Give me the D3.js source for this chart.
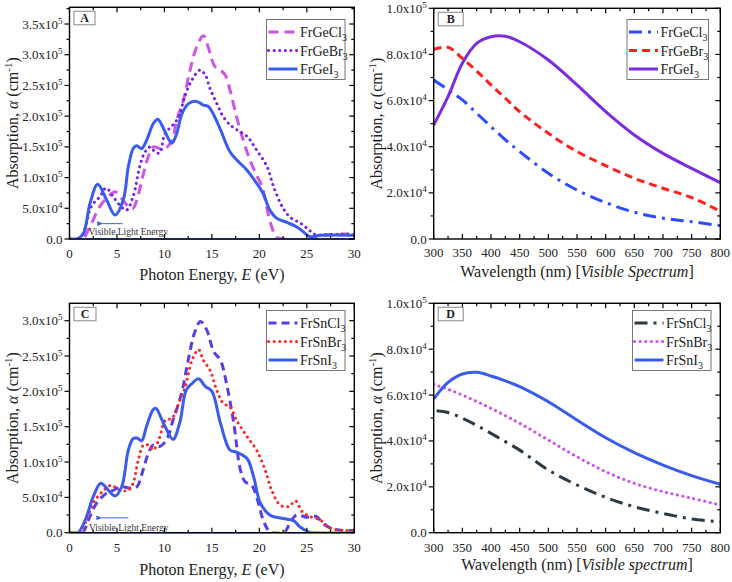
<!DOCTYPE html>
<html><head><meta charset="utf-8">
<script src="https://cdn.jsdelivr.net/npm/d3@7"></script>
<style>body{margin:0;background:#fff}</style></head>
<body><svg id="c" width="732" height="582" xmlns="http://www.w3.org/2000/svg"></svg>
<script>
// ---------- DATA ----------
// Panels A & C: photon energy (eV) vs absorption (units of 1e5 cm^-1)
const FrGeCl3_A = [[0,0],[1.2,0],[1.46,0.01],[2.16,0.2],[3.2,0.53],[4.27,0.72],[4.8,0.77],[5.5,0.66],[6.2,0.53],[6.7,0.50],[7.1,0.64],[7.8,1.07],[8.3,1.34],[8.83,1.50],[9.5,1.47],[10.06,1.47],[10.8,1.61],[11.3,1.94],[12.0,2.26],[12.7,2.75],[13.4,3.13],[14.1,3.31],[14.6,3.13],[15.3,2.81],[15.9,2.75],[16.4,2.67],[16.9,2.43],[17.6,1.99],[18.3,1.61],[19.0,1.29],[19.7,1.04],[20.3,0.85],[20.8,0.50],[21.3,0.20],[21.8,0.03],[22.5,0],[25.5,0],[26.4,0.05],[27.2,0.07],[28,0.06],[29,0.08],[30,0.09]];
const FrGeBr3_A = [[0,0],[1.1,0],[1.6,0.15],[2.3,0.53],[3.2,0.69],[3.85,0.83],[4.6,0.69],[5.3,0.55],[6.0,0.47],[6.7,0.69],[7.4,1.18],[7.9,1.40],[8.5,1.50],[9.0,1.42],[9.5,1.40],[10.06,1.72],[10.8,1.84],[11.5,1.99],[12.2,2.35],[12.9,2.59],[13.75,2.75],[14.3,2.67],[14.8,2.45],[15.5,2.21],[16.2,1.99],[16.9,1.86],[17.6,1.78],[18.7,1.67],[19.7,1.45],[20.8,1.18],[21.5,0.85],[22.4,0.53],[23.2,0.36],[24.3,0.26],[25.2,0.15],[25.9,0.07],[27,0.07],[28.5,0.08],[30,0.07]];
const FrGeI3_A = [[0,0],[0.8,0],[1.46,0.09],[2.16,0.58],[2.97,0.89],[3.9,0.64],[4.8,0.39],[5.67,0.64],[6.2,1.18],[6.73,1.48],[7.08,1.52],[7.6,1.47],[8.13,1.61],[8.83,1.88],[9.3,1.95],[9.9,1.80],[10.77,1.56],[11.3,1.72],[11.8,2.02],[12.5,2.20],[13.4,2.24],[14.1,2.18],[14.6,2.16],[15.2,2.02],[15.9,1.78],[16.9,1.42],[17.6,1.29],[18.7,1.12],[19.7,0.91],[20.4,0.74],[21.1,0.47],[21.8,0.34],[22.9,0.27],[23.9,0.20],[24.6,0.12],[25.3,0.04],[26.4,0.06],[27.8,0.065],[30,0.06]];

const FrSnCl3_C = [[0,0],[1.3,0],[1.46,0.01],[2.16,0.23],[2.86,0.42],[3.9,0.56],[4.6,0.60],[5.5,0.65],[6.4,0.63],[7.1,0.65],[7.6,0.82],[8.3,1.12],[8.8,1.24],[9.5,1.22],[10.2,1.31],[10.9,1.59],[11.8,1.97],[12.5,2.44],[13.2,2.84],[13.8,2.99],[14.45,2.87],[15.2,2.56],[15.9,2.44],[16.6,2.07],[17.3,1.55],[18.0,0.89],[18.5,0.72],[19.2,0.67],[19.9,0.42],[20.4,0.18],[21.1,0.01],[21.6,0],[22.6,0],[23.2,0.13],[23.9,0.25],[25.0,0.22],[26.0,0.23],[26.7,0.13],[27.8,0.05],[30,0.03]];
const FrSnBr3_C = [[0,0],[1.1,0],[1.8,0.18],[2.5,0.42],[3.6,0.60],[4.4,0.67],[5.3,0.60],[6.2,0.60],[6.7,0.70],[7.25,1.03],[7.8,1.24],[8.3,1.24],[8.8,1.17],[9.4,1.31],[10.1,1.59],[10.8,1.62],[11.5,1.83],[12.2,2.07],[12.9,2.44],[13.6,2.59],[14.1,2.44],[14.8,2.30],[15.5,2.02],[16.2,1.83],[16.9,1.78],[17.6,1.59],[18.7,1.36],[19.7,1.17],[20.6,0.89],[21.3,0.60],[22.2,0.39],[23.1,0.37],[23.8,0.45],[24.5,0.30],[25.3,0.23],[26.4,0.18],[27.3,0.08],[28.1,0.04],[30,0.03]];
const FrSnI3_C = [[0,0],[0.8,0],[1.1,0.03],[1.8,0.23],[2.5,0.51],[3.3,0.70],[4.1,0.60],[4.8,0.52],[5.5,0.65],[6.2,1.17],[6.7,1.33],[7.1,1.34],[7.6,1.30],[8.1,1.50],[8.8,1.74],[9.1,1.76],[9.9,1.55],[10.9,1.32],[11.6,1.55],[12.3,2.02],[12.9,2.11],[13.6,2.18],[14.3,2.07],[15.0,2.00],[15.9,1.55],[16.9,1.17],[17.6,1.14],[18.7,1.05],[19.4,0.79],[20.1,0.42],[21.1,0.25],[22.5,0.20],[23.6,0.17],[24.3,0.08],[25.2,0.01],[26,0],[30,0]];

// Panels B & D: wavelength (nm) vs absorption (units of 1e4 cm^-1)
const wavelength = [300,325,350,375,400,425,450,500,550,600,650,700,750,800];
const FrGeCl3_B = [6.89,6.47,6.03,5.45,4.87,4.30,3.79,2.85,2.12,1.58,1.16,0.90,0.75,0.58];
const FrGeBr3_B = [8.22,8.31,7.83,7.28,6.68,6.10,5.52,4.58,3.79,3.18,2.63,2.20,1.79,1.21];
const FrGeI3_B  = [4.94,6.17,7.62,8.48,8.77,8.79,8.55,7.76,6.68,5.52,4.51,3.71,3.06,2.44];
const wavelengthSnCl3 = [305,325,350,375,400,425,450,500,550,600,650,700,750,800];
const FrSnCl3_D = [5.32,5.24,4.99,4.68,4.33,3.97,3.60,2.73,2.08,1.54,1.13,0.84,0.60,0.48];
const FrSnBr3_D = [6.47,6.25,6.00,5.72,5.42,5.10,4.77,4.04,3.31,2.66,2.15,1.79,1.50,1.21];
const FrSnI3_D  = [5.83,6.55,6.92,6.99,6.83,6.62,6.37,5.71,4.91,4.14,3.49,2.95,2.49,2.11];

// Ticks
const energyTicks = [0,5,10,15,20,25,30];
const wavelengthTicks = [300,350,400,450,500,550,600,650,700,750,800];
const yTicksA = [0,0.5,1.0,1.5,2.0,2.5,3.0,3.5];
const yTickLabelsA = ["0.0","5.0x10^4","1.0x10^5","1.5x10^5","2.0x10^5","2.5x10^5","3.0x10^5","3.5x10^5"];
const yTicksC = [0,0.5,1.0,1.5,2.0,2.5,3.0];
const yTickLabelsC = ["0.0","5.0x10^4","1.0x10^5","1.5x10^5","2.0x10^5","2.5x10^5","3.0x10^5"];
const yTicksBD = [0,2,4,6,8,10];
const yTickLabelsBD = ["0.0","2.0x10^4","4.0x10^4","6.0x10^4","8.0x10^4","1.0x10^5"];

// ---------- DRAW ----------
const svg = d3.select("#c");
const FONT = "'Liberation Serif','Times New Roman',serif";
const zip = (xs, ys) => xs.map((x,i)=>[x, ys[i]]);

const STY = {
  solid:  {dash:null, cap:"butt"},
  dash:   {dash:"10 6", cap:"butt"},
  dashS:  {dash:"8 5", cap:"butt"},
  dot:    {dash:"0.1 5.5", cap:"round"},
  dashdot:{dash:"13 6 3 6", cap:"butt"}
};

const panels = [
  {label:"A", box:{l:69.5,r:354.3,t:7.3,b:239}, xd:[0,30], yd:[0,3.772], xt:energyTicks, xMinorStep:2.5,
   yt:yTicksA, ytl:yTickLabelsA, yMinorStep:0.25, xTitle:["Photon Energy, ",["E","italic"]," (eV)"], xTitleY:280, xTickY:258,
   labelW:21, legend:{x:266.5,y:19.5,w:78.5,h:60},
   series:[
     {name:"FrGeCl",data:FrGeCl3_A,color:"#cc55e8",sty:"dash"},
     {name:"FrGeBr",data:FrGeBr3_A,color:"#7a1fe6",sty:"dot"},
     {name:"FrGeI",data:FrGeI3_A,color:"#3a5bef",sty:"solid"}],
   zeroLine:true, note:{tx:2.0,ty:0.06,ax1:5.6,ax2:3.5,ay:0.25}},
  {label:"B", box:{l:433.7,r:720.3,t:8.3,b:239}, xd:[300,800], yd:[0,10], xt:wavelengthTicks, xMinorStep:25,
   yt:yTicksBD, ytl:yTickLabelsBD, yMinorStep:1, xTitle:["Wavelength (nm) [",["Visible Spectrum","italic"],"]"], xTitleY:277, xTickY:257,
   labelW:25, legend:{x:627,y:19.5,w:81.5,h:60},
   series:[
     {name:"FrGeCl",data:zip(wavelength,FrGeCl3_B),color:"#2b4cff",sty:"dashdot"},
     {name:"FrGeBr",data:zip(wavelength,FrGeBr3_B),color:"#ff1f1f",sty:"dashS"},
     {name:"FrGeI",data:zip(wavelength,FrGeI3_B),color:"#7b2be0",sty:"solid"}]},
  {label:"C", box:{l:69.5,r:354.3,t:303.3,b:532.7}, xd:[0,30], yd:[0,3.246], xt:energyTicks, xMinorStep:2.5,
   yt:yTicksC, ytl:yTickLabelsC, yMinorStep:0.25, xTitle:["Photon Energy, ",["E","italic"]," (eV)"], xTitleY:575, xTickY:552,
   labelW:22, legend:{x:266.5,y:310.5,w:78.5,h:60},
   series:[
     {name:"FrSnCl",data:FrSnCl3_C,color:"#5b3de6",sty:"dashS"},
     {name:"FrSnBr",data:FrSnBr3_C,color:"#ff2626",sty:"dot"},
     {name:"FrSnI",data:FrSnI3_C,color:"#3a5bef",sty:"solid"}],
   zeroLine:true, note:{tx:2.05,ty:0.03,ax1:6.2,ax2:3.4,ay:0.21}},
  {label:"D", box:{l:433.7,r:720.3,t:303.3,b:532.7}, xd:[300,800], yd:[0,10], xt:wavelengthTicks, xMinorStep:25,
   yt:yTicksBD, ytl:yTickLabelsBD, yMinorStep:1, xTitle:["Wavelength (nm) [",["Visible spectrum","italic"],"]"], xTitleY:570, xTickY:552,
   labelW:25, legend:{x:632.5,y:310.5,w:78.5,h:60},
   series:[
     {name:"FrSnCl",data:zip(wavelengthSnCl3,FrSnCl3_D),color:"#2d3a44",sty:"dashdot"},
     {name:"FrSnBr",data:zip(wavelength,FrSnBr3_D),color:"#cc4cf0",sty:"dot"},
     {name:"FrSnI",data:zip(wavelength,FrSnI3_D),color:"#3a5bef",sty:"solid"}]}
];

function supText(sel, label){
  const parts = label.split("^");
  sel.text(parts[0]);
  if(parts[1]) sel.append("tspan").attr("dy",-5).attr("font-size",9).text(parts[1]);
}

function range(a,b,step){const r=[];for(let v=a;v<=b+1e-9;v+=step)r.push(+v.toFixed(6));return r;}

svg.append("defs").append("marker").attr("id","arr").attr("viewBox","0 0 10 10")
  .attr("refX",1).attr("refY",5).attr("markerWidth",6).attr("markerHeight",6).attr("orient","auto-start-reverse")
  .append("path").attr("d","M10,1 L0,5 L10,9 Z").attr("fill","#3f5fd8");

panels.forEach(p=>{
  const b = p.box;
  const x = d3.scaleLinear().domain(p.xd).range([b.l,b.r]);
  const y = d3.scaleLinear().domain(p.yd).range([b.b,b.t]);
  const g = svg.append("g");

  const clipId = "clip"+p.label;
  svg.select("defs").append("clipPath").attr("id",clipId).append("rect")
    .attr("x",b.l).attr("y",b.t-2).attr("width",b.r-b.l).attr("height",b.b-b.t+1);

  // zero line
  if(p.zeroLine){
    g.append("line").attr("x1",x(p.xd[0])).attr("x2",x(p.xd[1])).attr("y1",y(0)).attr("y2",y(0))
      .attr("stroke","#3a5bef").attr("stroke-width",1.5);
  }

  // series
  const line = d3.line().x(d=>x(d[0])).y(d=>y(Math.max(0,d[1]))).curve(d3.curveCatmullRom.alpha(0.5));
  const cg = g.append("g").attr("clip-path",`url(#${clipId})`);
  p.series.forEach(s=>{
    cg.append("path").attr("d",line(s.data)).attr("fill","none")
      .attr("stroke",s.color).attr("stroke-width",3)
      .attr("stroke-dasharray",STY[s.sty].dash).attr("stroke-linecap",STY[s.sty].cap)
      .attr("stroke-linejoin","round");
  });

  // axes ticks
  const xMinor = range(p.xd[0],p.xd[1],p.xMinorStep).filter(v=>!p.xt.some(t=>Math.abs(t-v)<1e-6));
  const yMinor = range(p.yd[0],p.yd[1],p.yMinorStep).filter(v=>!p.yt.some(t=>Math.abs(t-v)<1e-6));
  const tk = g.append("g").attr("stroke","#000").attr("stroke-width",1.2);
  p.xt.forEach(v=>{
    tk.append("line").attr("x1",x(v)).attr("x2",x(v)).attr("y1",b.b).attr("y2",b.b-5);
    tk.append("line").attr("x1",x(v)).attr("x2",x(v)).attr("y1",b.t).attr("y2",b.t+5);
  });
  xMinor.forEach(v=>{
    tk.append("line").attr("x1",x(v)).attr("x2",x(v)).attr("y1",b.b).attr("y2",b.b-3);
    tk.append("line").attr("x1",x(v)).attr("x2",x(v)).attr("y1",b.t).attr("y2",b.t+3);
  });
  p.yt.forEach(v=>{
    tk.append("line").attr("x1",b.l).attr("x2",b.l-5).attr("y1",y(v)).attr("y2",y(v));
    tk.append("line").attr("x1",b.r).attr("x2",b.r-5).attr("y1",y(v)).attr("y2",y(v));
  });
  yMinor.forEach(v=>{
    tk.append("line").attr("x1",b.l).attr("x2",b.l-3).attr("y1",y(v)).attr("y2",y(v));
    tk.append("line").attr("x1",b.r).attr("x2",b.r-3).attr("y1",y(v)).attr("y2",y(v));
  });

  // frame
  g.append("rect").attr("x",b.l).attr("y",b.t).attr("width",b.r-b.l).attr("height",b.b-b.t)
    .attr("fill","none").attr("stroke","#000").attr("stroke-width",1.4);

  // tick labels
  p.xt.forEach(v=>{
    g.append("text").attr("x",x(v)).attr("y",p.xTickY).attr("text-anchor","middle")
      .attr("font-family",FONT).attr("font-size",13).attr("fill","#222").text(v);
  });
  p.yt.forEach((v,i)=>{
    const t = g.append("text").attr("x",b.l-7).attr("y",y(v)+4.5).attr("text-anchor","end")
      .attr("font-family",FONT).attr("font-size",13).attr("fill","#222");
    supText(t, p.ytl[i]);
  });

  // axis titles
  const xt = g.append("text").attr("x",(b.l+b.r)/2).attr("y",p.xTitleY).attr("text-anchor","middle")
    .attr("font-family",FONT).attr("font-size",16).attr("fill","#222");
  p.xTitle.forEach(part=>{
    if(Array.isArray(part)) xt.append("tspan").attr("font-style",part[1]).text(part[0]);
    else xt.append("tspan").text(part);
  });
  const yx = b.l - 52, yy = (b.t+b.b)/2;
  const yt = g.append("text").attr("transform",`translate(${yx},${yy}) rotate(-90)`).attr("text-anchor","middle")
    .attr("font-family",FONT).attr("font-size",16).attr("fill","#222");
  yt.append("tspan").text("Absorption, ");
  yt.append("tspan").attr("font-style","italic").text("α");
  yt.append("tspan").text(" (cm");
  yt.append("tspan").attr("dy",-6).attr("font-size",11).text("-1");
  yt.append("tspan").attr("dy",6).text(")");

  // panel label box
  g.append("rect").attr("x",b.l+4.5).attr("y",b.t+4).attr("width",p.labelW).attr("height",13.5)
    .attr("fill","#fff").attr("stroke","#888").attr("stroke-width",1);
  g.append("text").attr("x",b.l+4.5+p.labelW/2).attr("y",b.t+15).attr("text-anchor","middle")
    .attr("font-family",FONT).attr("font-weight","bold").attr("font-size",12).attr("fill","#222").text(p.label);

  // legend
  const L = p.legend;
  const lg = g.append("g");
  lg.append("rect").attr("x",L.x).attr("y",L.y).attr("width",L.w).attr("height",L.h)
    .attr("fill","#fff").attr("stroke","#777").attr("stroke-width",1);
  p.series.forEach((s,i)=>{
    const cy = L.y + 12.5 + i*18.5;
    lg.append("line").attr("x1",L.x+2).attr("x2",L.x+31).attr("y1",cy).attr("y2",cy)
      .attr("stroke",s.color).attr("stroke-width",3)
      .attr("stroke-dasharray",STY[s.sty].dash).attr("stroke-linecap",STY[s.sty].cap);
    const t = lg.append("text").attr("x",L.x+33.5).attr("y",cy+5)
      .attr("font-family",FONT).attr("font-size",14).attr("fill","#222").text(s.name);
    t.append("tspan").attr("dy",4).attr("font-size",10).text("3");
  });

  // annotation
  if(p.note){
    const n = p.note;
    g.append("line").attr("x1",x(n.ax1)).attr("x2",x(n.ax2)).attr("y1",y(n.ay)).attr("y2",y(n.ay))
      .attr("stroke","#3f5fd8").attr("stroke-width",1).attr("marker-end","url(#arr)");
    g.append("text").attr("x",x(n.tx)).attr("y",y(n.ty)).attr("font-family",FONT)
      .attr("font-size",9.5).attr("fill","#333").text("Visible Light Energy");
  }
});
</script>
</body></html>
